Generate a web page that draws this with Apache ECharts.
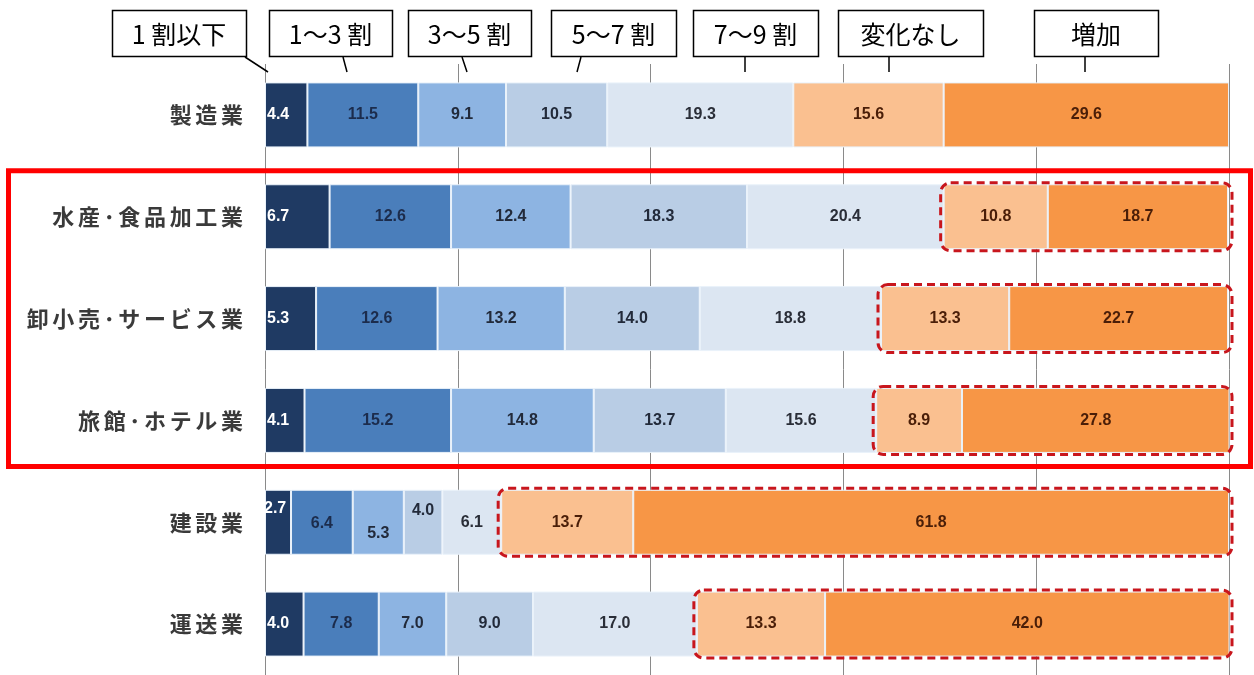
<!DOCTYPE html>
<html><head><meta charset="utf-8">
<script src="https://cdn.jsdelivr.net/npm/echarts@6/dist/echarts.min.js"></script>
<style>html,body{margin:0;padding:0;background:#fff}#c{width:1254px;height:675px}</style>
</head><body><div id="c"></div><script>
const categories = ['製造業','水産･食品加工業','卸小売･サービス業','旅館･ホテル業','建設業','運送業'];
const seriesNames = ['1 割以下','1～3 割','3～5 割','5～7 割','7～9 割','変化なし','増加'];
const s1 = [4.4, 6.7, 5.3, 4.1, 2.7, 4.0];
const s2 = [11.5, 12.6, 12.6, 15.2, 6.4, 7.8];
const s3 = [9.1, 12.4, 13.2, 14.8, 5.3, 7.0];
const s4 = [10.5, 18.3, 14.0, 13.7, 4.0, 9.0];
const s5 = [19.3, 20.4, 18.8, 15.6, 6.1, 17.0];
const s6 = [15.6, 10.8, 13.3, 8.9, 13.7, 13.3];
const s7 = [29.6, 18.7, 22.7, 27.8, 61.8, 42.0];
const xTicks = [0, 20, 40, 60, 80, 100];
const highlighted = [1, 2, 3, 4, 5]; // rows whose 変化なし+増加 are circled
const framedRows = [1, 3];           // first and last row inside the red frame

const values = [s1, s2, s3, s4, s5, s6, s7];
const colors = ['#1f3a63', '#4a7ebb', '#8db4e2', '#b9cde5', '#dce6f2', '#fac090', '#f79646'];
const labelColors = ['#ffffff', '#1c2c4c', '#222a3a', '#222a3a', '#2a2e38', '#4a1e08', '#4a1e08'];
// label nudges for the crowded 建設業 row (series index -> offset)
const nudges = { 0: [-3, -14], 1: [0, 1], 2: [0, 11], 3: [0, -12] };

const chart = echarts.init(document.getElementById('c'), null, { renderer: 'canvas' });

const series = seriesNames.map((name, si) => ({
  name, type: 'bar', stack: 'total', barWidth: 65,
  itemStyle: { color: colors[si], borderColor: '#eaf2fa', borderWidth: 1 },
  label: {
    show: true, position: si === 0 ? 'insideLeft' : 'inside', distance: 2,
    formatter: p => p.value.toFixed(1),
    color: labelColors[si], fontFamily: 'Liberation Sans, Arial', fontWeight: 'bold', fontSize: 16
  },
  data: values[si].map((v, ci) => {
    if (ci === 4 && nudges[si]) return { value: v, label: { offset: nudges[si] } };
    return v;
  })
}));

chart.setOption({
  animation: false,
  backgroundColor: '#ffffff',
  grid: { left: 265, right: 25, top: 64, height: 612 },
  xAxis: {
    type: 'value', min: xTicks[0], max: xTicks[xTicks.length - 1], interval: xTicks[1] - xTicks[0],
    axisLabel: { show: false }, axisLine: { show: false }, axisTick: { show: false },
    splitLine: { show: true, lineStyle: { color: '#8a8a8a', width: 1 } }
  },
  yAxis: {
    type: 'category', data: categories, inverse: true,
    axisLine: { show: false }, axisTick: { show: false },
    axisLabel: {
      margin: 22, color: '#3a3a3a', fontSize: 22, fontWeight: 'bold', fontFamily: 'Noto Sans CJK JP',
      formatter: v => Array.from(v).join('\u2006')
    }
  },
  series
});

// annotation overlay: legend call-out boxes, dashed circles and red frame
const boxes = [
  { x: 112, w: 134, lx0: 245, lx1: 268 },
  { x: 269, w: 123, lx0: 343, lx1: 347 },
  { x: 408, w: 123, lx0: 462, lx1: 467 },
  { x: 551, w: 125, lx0: 581, lx1: 577 },
  { x: 693, w: 125, lx0: 745, lx1: 745 },
  { x: 838, w: 145, lx0: 889, lx1: 889 },
  { x: 1034, w: 124, lx0: 1085, lx1: 1085 }
];
const g = [];
boxes.forEach((b, i) => {
  g.push({ type: 'rect', shape: { x: b.x + 0.5, y: 10.5, width: b.w, height: 46 },
    style: { fill: '#fff', stroke: '#000', lineWidth: 1.5 }, z: 100 });
  g.push({ type: 'text', x: b.x + b.w / 2, y: 34, z: 101,
    style: { text: seriesNames[i], fill: '#000', font: '25px "Noto Sans CJK JP"', align: 'center', verticalAlign: 'middle' } });
  g.push({ type: 'line', shape: { x1: b.lx0, y1: 57, x2: b.lx1, y2: 72 },
    style: { stroke: '#000', lineWidth: 1.5 }, z: 100 });
});
highlighted.forEach(ci => {
  let before = 0;
  for (let si = 0; si < 5; si++) before += values[si][ci];
  const p0 = chart.convertToPixel({ gridIndex: 0 }, [before, categories[ci]]);
  const p1 = chart.convertToPixel({ gridIndex: 0 }, [xTicks[xTicks.length - 1], categories[ci]]);
  g.push({ type: 'rect', z: 110,
    shape: { x: p0[0] - 3, y: p0[1] - 34, width: p1[0] - p0[0] + 6, height: 68, r: 10 },
    style: { fill: 'none', stroke: '#c8161d', lineWidth: 3, lineDash: [8, 5] } });
});
const fTop = chart.convertToPixel({ gridIndex: 0 }, [0, categories[framedRows[0]]]);
const fBot = chart.convertToPixel({ gridIndex: 0 }, [0, categories[framedRows[1]]]);
g.push({ type: 'rect', z: 120,
  shape: { x: 8.5, y: fTop[1] - 46, width: 1242, height: fBot[1] - fTop[1] + 92 },
  style: { fill: 'none', stroke: '#ff0000', lineWidth: 5 } });
chart.setOption({ graphic: g });
</script></body></html>
